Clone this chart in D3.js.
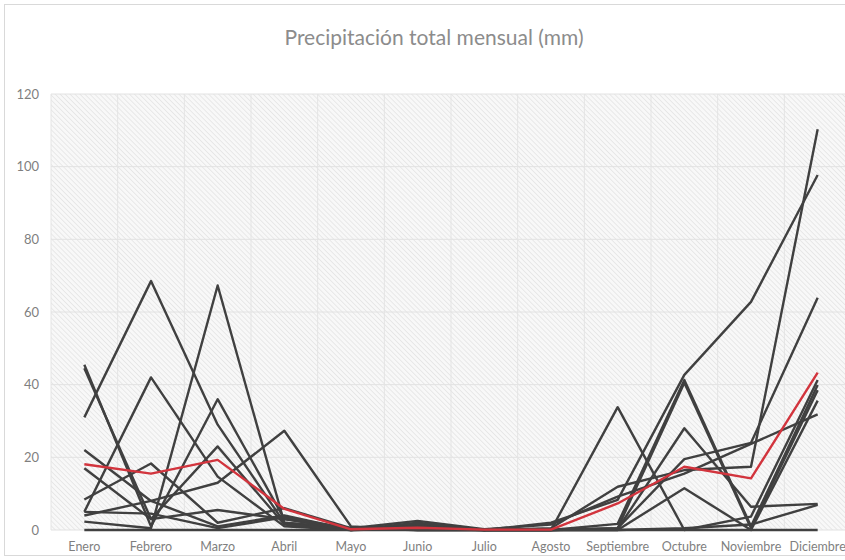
<!DOCTYPE html>
<html><head><meta charset="utf-8">
<script src="https://cdn.jsdelivr.net/npm/d3@7"></script>
<style>
body{margin:0;background:#fff;}
svg{display:block;font-family:Lato,"Open Sans",sans-serif;}
</style></head><body>
<svg id="c" width="845" height="560"></svg>
<script>
const title = "Precipitación total mensual (mm)";
const months = ["Enero","Febrero","Marzo","Abril","Mayo","Junio","Julio","Agosto","Septiembre","Octubre","Noviembre","Diciembre"];
const yTicks = [0,20,40,60,80,100,120];

// individual years (grey)
const s1  = [31, 68.5, 29, 2, 0.3, 0.5, 0, 2, 8.3, 42.7, 62.8, 97.7];
const s2  = [2.3, 0.5, 67.3, 2, 0.5, 0, 0, 0.5, 11.9, 16.5, 17.4, 110.3];
const s3  = [5, 42, 14.7, 1, 0, 1.5, 0, 0, 0.5, 19.5, 24, 63.9];
const s4  = [45.5, 1, 36, 3, 0.5, 2.5, 0.2, 1.5, 9.2, 15.5, 23.7, 31.8];
const s5  = [44.5, 3, 23, 1.5, 0, 0.5, 0, 0, 33.8, 0, 3.7, 41.3];
const s6  = [22, 8, 1, 4, 0, 2, 0, 0, 1.7, 41.3, 1, 39.9];
const s7  = [17, 3, 5.5, 3, 0, 0.3, 0, 0, 0.5, 40.5, 0.5, 38.5];
const s8  = [8.4, 18.3, 2, 6, 0.5, 1, 0, 0, 0, 11.5, 0, 35.6];
const s9  = [4, 8, 13, 27.3, 1, 0, 0, 0, 0.3, 28, 6.4, 7.2];
const s10 = [5, 4.5, 0.5, 3.5, 0.3, 0, 0, 0, 0, 0.5, 1.5, 6.9];
const s11 = [0, 0, 0, 0, 0, 0, 0, 0, 0, 0, 0, 0];
const series = [s1,s2,s3,s4,s5,s6,s7,s8,s9,s10,s11];
// average (red)
const promedio = [18.1, 15.5, 19.3, 5.8, 0.2, 0.6, 0.1, 0.1, 7.3, 17.4, 14.2, 43.3];

const svg = d3.select("#c");
const W = 845, H = 560;
const pL = 51, pR = 851, pT = 94, pB = 530;

// chart border
svg.append("rect").attr("x",4.5).attr("y",4.5).attr("width",W+10).attr("height",H-9)
  .attr("fill","#fff").attr("stroke","#d9d9d9");

// hatch pattern
const defs = svg.append("defs");
const pat = defs.append("pattern").attr("id","hatch").attr("patternUnits","userSpaceOnUse")
  .attr("width",3.5).attr("height",3.5).attr("patternTransform","rotate(-45)");
pat.append("rect").attr("width",3.5).attr("height",3.5).attr("fill","#f8f8f8");
pat.append("line").attr("x1",0).attr("y1",0).attr("x2",0).attr("y2",3.5)
  .attr("stroke","#dedede").attr("stroke-width",1.2);

const x = d3.scaleBand().domain(months).range([pL,pR]).padding(0);
const y = d3.scaleLinear().domain([0,120]).range([pB,pT]);
const cx = m => x(m) + x.bandwidth()/2;

svg.append("rect").attr("x",pL).attr("y",pT).attr("width",pR-pL).attr("height",pB-pT)
  .attr("fill","url(#hatch)");

// gridlines
svg.append("g").selectAll("line").data(yTicks).join("line")
  .attr("x1",pL).attr("x2",pR).attr("y1",d=>y(d)).attr("y2",d=>y(d))
  .attr("stroke","#e2e2e2").attr("stroke-width",1);
svg.append("g").selectAll("line").data(months).join("line")
  .attr("x1",d=>x(d)).attr("x2",d=>x(d)).attr("y1",pT).attr("y2",pB)
  .attr("stroke","#e4e4e4").attr("stroke-width",1);

// axes
const yAxis = d3.axisLeft(y).tickValues(yTicks).tickSize(0).tickPadding(12);
const gy = svg.append("g").attr("transform",`translate(${pL},0)`).call(yAxis);
gy.select(".domain").remove();
gy.selectAll("text").attr("fill","#7f7f7f").attr("font-size",13).attr("font-family","Lato,'Open Sans',sans-serif");

const xAxis = d3.axisBottom(x).tickSize(0).tickPadding(12);
const gx = svg.append("g").attr("transform",`translate(0,${pB})`).call(xAxis);
gx.select(".domain").remove();
gx.selectAll("text").attr("fill","#7f7f7f").attr("font-size",12.5).attr("font-family","Lato,'Open Sans',sans-serif");

// lines
const line = d3.line().x((d,i)=>cx(months[i])).y(d=>y(d));
svg.append("g").selectAll("path").data(series).join("path")
  .attr("d",line).attr("fill","none").attr("stroke","#404040").attr("stroke-width",2.4)
  .attr("stroke-linejoin","round");
svg.append("path").datum(promedio).attr("d",line).attr("fill","none")
  .attr("stroke","#d2343d").attr("stroke-width",2.4).attr("stroke-linejoin","round");

// title
svg.append("text").attr("x",434).attr("y",45).attr("text-anchor","middle")
  .attr("font-size",21).attr("fill","#8c8c8c").text(title);
</script>
</body></html>
